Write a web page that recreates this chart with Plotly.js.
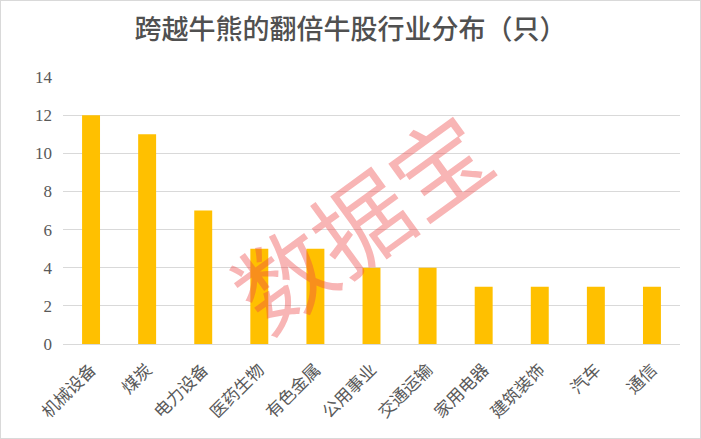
<!DOCTYPE html>
<html>
<head>
<meta charset="utf-8">
<script src="https://cdn.plot.ly/plotly-3.0.1.min.js"></script>
<style>
html,body{margin:0;padding:0;background:#fff;}
#chart{width:699px;height:437px;border:1px solid #d9d9d9;}
</style>
</head>
<body>
<div id="chart"></div>
<script>
const categories = ["机械设备","煤炭","电力设备","医药生物","有色金属","公用事业","交通运输","家用电器","建筑装饰","汽车","通信"];
const counts = [12,11,7,5,5,4,4,3,3,3,3];
const yTicks = [0,2,4,6,8,10,12,14];
const titleText = "跨越牛熊的翻倍牛股行业分布（只）";
const watermark = "数据宝";

const trace = {
  type: "bar",
  x: categories,
  y: counts,
  marker: {color: "#FFC000"},
  hoverinfo: "x+y"
};

const layout = {
  width: 699, height: 437,
  paper_bgcolor: "#ffffff",
  plot_bgcolor: "#ffffff",
  margin: {l: 62, r: 20, t: 76, b: 94},
  bargap: 0.68,
  showlegend: false,
  title: {
    text: titleText,
    x: 0.5, xanchor: "center",
    y: 0.935, yanchor: "middle",
    font: {family: "Noto Sans CJK SC", size: 27, color: "#505050", weight: 500}
  },
  xaxis: {
    type: "category",
    tickangle: -45,
    tickfont: {family: "Noto Sans CJK SC", size: 17, color: "#595959"},
    showline: true, linecolor: "#d9d9d9", linewidth: 1,
    ticks: "", showgrid: false, ticklabelstandoff: 8
  },
  yaxis: {
    range: [0, 14],
    tickvals: yTicks,
    tickfont: {family: "Liberation Serif", size: 17, color: "#595959"},
    showgrid: true, gridcolor: "#d9d9d9", gridwidth: 1,
    zeroline: false, showline: false, ticks: "", ticklabelstandoff: 10
  },
  annotations: [{
    text: watermark,
    xref: "paper", yref: "paper",
    x: 0.48, y: 0.47,
    xanchor: "center", yanchor: "middle",
    showarrow: false,
    textangle: -36,
    font: {family: "Noto Sans CJK SC", size: 96, color: "rgba(238,70,70,0.4)"}
  }]
};

Plotly.newPlot("chart", [trace], layout, {displayModeBar: false, staticPlot: true});
</script>
</body>
</html>
